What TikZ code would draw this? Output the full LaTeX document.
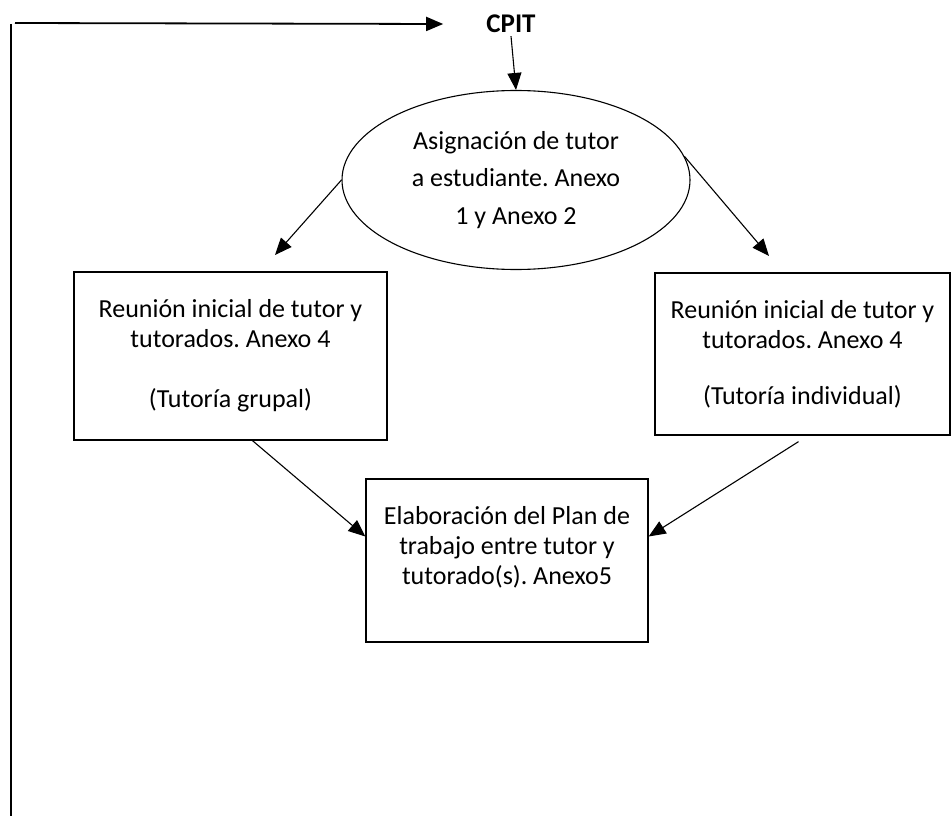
\documentclass[tikz,border=0pt]{standalone}
\usepackage{fontspec}
\setmainfont{Carlito}
\frenchspacing
\usetikzlibrary{calc,shapes.geometric,arrows.meta}
\tikzset{
  caja/.style={draw, line width=1.3pt, inner sep=0pt, align=center, font=\fontsize{26}{30}\selectfont},
  flecha/.style={line width=1.1pt, -{Triangle[length=17pt,width=14pt]}},
}

\begin{document}
\begin{tikzpicture}[x=1pt,y=-1pt]
\useasboundingbox (0,0) rectangle (951,816);
\node [font=\fontsize{27}{30}\selectfont\bfseries, inner sep=3pt] (cpit) at (511,24) {CPIT};
\node [ellipse, draw, line width=1.1pt, minimum width=348pt, minimum height=179pt, inner sep=0pt, align=center, font=\fontsize{26}{37.5}\selectfont] (ell) at (516,180) {Asignación de tutor\\a estudiante. Anexo\\1 y Anexo 2};
\node [caja, minimum width=313pt, minimum height=168pt] (lbox) at (230.5,356) {Reunión inicial de tutor y\\tutorados. Anexo 4\\[30pt](Tutoría grupal)};
\node [caja, minimum width=295pt, minimum height=162pt] (rbox) at (802.5,354) {Reunión inicial de tutor y\\tutorados. Anexo 4\\[26pt](Tutoría individual)};
\node [caja, minimum width=282pt, minimum height=163pt] (bbox) at (507,560.5) {Elaboración del Plan de\\trabajo entre tutor y\\tutorado(s). Anexo5\\\mbox{}};
\coordinate (arriba) at (11,24);
\coordinate (abajo) at (11,816);
\coordinate (esq) at (15,23);
\coordinate (ltip) at (275,255);
\coordinate (rtip) at (769,256);
\draw [line width=1.5pt] (arriba) -- (abajo);
\draw [flecha, line width=1.8pt] (esq) -- ($(cpit.west)+(-40,0)$);
\draw [flecha] (cpit.south) -- (ell.north);
\draw [flecha] (ell.west) -- (ltip);
\draw [flecha] (ell.8) -- (rtip);
\draw [flecha] ($(lbox.south)+(22,0)$) -- ($(bbox.west)+(0,-24)$);
\draw [flecha] ($(rbox.south)+(-4,6)$) -- ($(bbox.east)+(0,-24)$);
\end{tikzpicture}
\end{document}
